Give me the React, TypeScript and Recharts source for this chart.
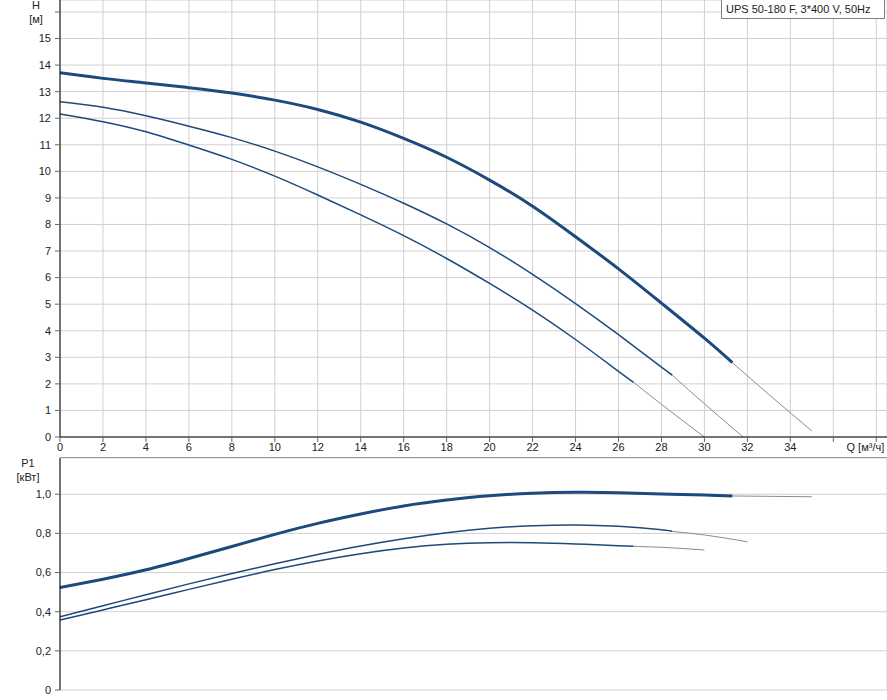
import React from 'react';
import { LineChart, Line, XAxis, YAxis, CartesianGrid } from 'recharts';

// flow, m³/h
const qTicks = [0, 2, 4, 6, 8, 10, 12, 14, 16, 18, 20, 22, 24, 26, 28, 30, 32, 34, 36, 38];
const hTicks = [0, 1, 2, 3, 4, 5, 6, 7, 8, 9, 10, 11, 12, 13, 14, 15, 16];
const pTicks = [0, 0.2, 0.4, 0.6, 0.8, 1.0];

// H curves (head, m)
const qMax = [0, 2, 4, 6, 8, 10, 12, 14, 16, 18, 20, 22, 24, 26, 28, 30, 31.3];
const hMax = [13.71, 13.5, 13.33, 13.15, 12.95, 12.68, 12.33, 11.85, 11.24, 10.53, 9.67, 8.69, 7.54, 6.33, 5.04, 3.72, 2.8];
const qMaxExt = [31.3, 33, 35];
const hMaxExt = [2.8, 1.6, 0.23];

const qMid = [0, 2, 4, 6, 8, 10, 12, 14, 16, 18, 20, 22, 24, 26, 28, 28.5];
const hMid = [12.62, 12.41, 12.09, 11.7, 11.27, 10.76, 10.17, 9.51, 8.8, 8.02, 7.13, 6.12, 5.02, 3.85, 2.63, 2.33];
const qMidExt = [28.5, 30, 31.8];
const hMidExt = [2.33, 1.25, 0];

const qMin = [0, 2, 4, 6, 8, 10, 12, 14, 16, 18, 20, 22, 24, 26, 26.7];
const hMin = [12.16, 11.87, 11.49, 10.99, 10.45, 9.82, 9.11, 8.36, 7.58, 6.72, 5.78, 4.78, 3.67, 2.47, 2.06];
const qMinExt = [26.7, 28, 30];
const hMinExt = [2.06, 1.23, 0];

// P1 curves (power, kW)
const pMax = [0.524, 0.566, 0.614, 0.672, 0.733, 0.795, 0.851, 0.899, 0.94, 0.97, 0.992, 1.005, 1.01, 1.008, 1.001, 0.996, 0.991];
const qPMaxExt = [31.3, 35];
const pMaxExt = [0.991, 0.987];

const pMid = [0.374, 0.43, 0.487, 0.542, 0.595, 0.645, 0.692, 0.735, 0.772, 0.803, 0.826, 0.839, 0.843, 0.836, 0.818, 0.81];
const qPMidExt = [28.5, 30, 32];
const pMidExt = [0.81, 0.792, 0.757];

const pMin = [0.357, 0.409, 0.461, 0.514, 0.566, 0.615, 0.659, 0.696, 0.725, 0.744, 0.752, 0.752, 0.746, 0.737, 0.734];
const qPMinExt = [26.7, 28, 30];
const pMinExt = [0.734, 0.729, 0.715];

const pts = (q: number[], v: number[]) => q.map((x, i) => ({ q: x, v: v[i] }));

const BLUE = '#1c4a7c';
const EXT = '#8c8c8c';
const FONT = '"Liberation Sans", Arial, sans-serif';
const txt = { fontFamily: FONT, fontSize: 11, fill: '#222' };

const XTick = (props: any) => {
  const { x, y, payload } = props;
  if (payload.value > 34) {
    if (payload.value === 38)
      return <text x={x + 8} y={y} dy="0.71em" textAnchor="end" {...txt}>Q [м³/ч]</text>;
    return <g />;
  }
  return <text x={x} y={y} dy="0.71em" textAnchor="middle" {...txt}>{payload.value}</text>;
};

const HTick = (props: any) => {
  const { x, y, payload } = props;
  if (payload.value === 16) return <g />;
  return <text x={x} y={y} dy="0.35em" textAnchor="end" {...txt}>{payload.value}</text>;
};

const PTick = (props: any) => {
  const { x, y, payload } = props;
  const s = payload.value === 0 ? '0' : payload.value.toFixed(1).replace('.', ',');
  return <text x={x} y={y} dy="0.35em" textAnchor="end" {...txt}>{s}</text>;
};

const lbl: React.CSSProperties = { position: 'absolute', fontFamily: FONT, fontSize: 11, color: '#222', width: 50, textAlign: 'center', lineHeight: '13px' };

export default function App() {
  const series = (main: any[], ext: any[], w: number, key: string) => [
    <Line key={key + 'e'} data={ext} dataKey="v" type="monotone" stroke={EXT} strokeWidth={1} dot={false} activeDot={false} isAnimationActive={false} />,
    <Line key={key} data={main} dataKey="v" type="natural" stroke={BLUE} strokeWidth={w} dot={false} activeDot={false} isAnimationActive={false} />,
  ];
  return (
    <div style={{ position: 'absolute', left: 0, top: 0, width: 887, height: 700, background: '#fff', overflow: 'hidden' }}>
      <div style={{ position: 'absolute', left: 0, top: 0 }}>
        <LineChart width={887} height={458} margin={{ top: 0, right: 0, bottom: 0, left: 0 }}>
          <CartesianGrid stroke="#d0d0d0" />
          <XAxis dataKey="q" type="number" domain={[0, 38.5]} ticks={qTicks} height={21} tick={<XTick />} tickSize={5} tickMargin={1}
            axisLine={{ stroke: '#000' }} tickLine={{ stroke: '#666' }} allowDataOverflow />
          <YAxis type="number" domain={[0, 16.45]} ticks={hTicks} width={60} tick={<HTick />} tickSize={5} tickMargin={4}
            axisLine={{ stroke: '#000' }} tickLine={{ stroke: '#666' }} allowDataOverflow />
          {series(pts(qMax, hMax), pts(qMaxExt, hMaxExt), 3, 'hmax')}
          {series(pts(qMid, hMid), pts(qMidExt, hMidExt), 1.5, 'hmid')}
          {series(pts(qMin, hMin), pts(qMinExt, hMinExt), 1.5, 'hmin')}
        </LineChart>
      </div>
      <div style={{ position: 'absolute', left: 0, top: 458 }}>
        <LineChart width={887} height={242} margin={{ top: 0, right: 0, bottom: 0, left: 0 }}>
          <CartesianGrid stroke="#d0d0d0" />
          <XAxis dataKey="q" type="number" domain={[0, 38.5]} ticks={qTicks} height={10} tick={false} tickLine={false} axisLine={false} allowDataOverflow />
          <YAxis type="number" domain={[0, 1.185]} ticks={pTicks} width={60} tick={<PTick />} tickSize={5} tickMargin={4}
            axisLine={{ stroke: '#000' }} tickLine={{ stroke: '#666' }} allowDataOverflow />
          {series(pts(qMax, pMax), pts(qPMaxExt, pMaxExt), 3, 'pmax')}
          {series(pts(qMid, pMid), pts(qPMidExt, pMidExt), 1.5, 'pmid')}
          {series(pts(qMin, pMin), pts(qPMinExt, pMinExt), 1.5, 'pmin')}
        </LineChart>
      </div>
      <div style={{ position: 'absolute', left: 60, top: 457, width: 827, borderTop: '1px solid #999' }} />
      <div style={{ ...lbl, left: 11, top: -1 }}>H</div>
      <div style={{ ...lbl, left: 11, top: 13 }}>[м]</div>
      <div style={{ ...lbl, left: 3, top: 457 }}>P1</div>
      <div style={{ ...lbl, left: 3, top: 471 }}>[кВт]</div>
      <div style={{ position: 'absolute', left: 721, top: -1, width: 158, height: 18, border: '1px solid #7f7f7f', background: '#fff',
        fontFamily: FONT, fontSize: 11, color: '#222', lineHeight: '19px', paddingLeft: 4 }}>
        UPS 50-180 F, 3*400 V, 50Hz
      </div>
    </div>
  );
}
